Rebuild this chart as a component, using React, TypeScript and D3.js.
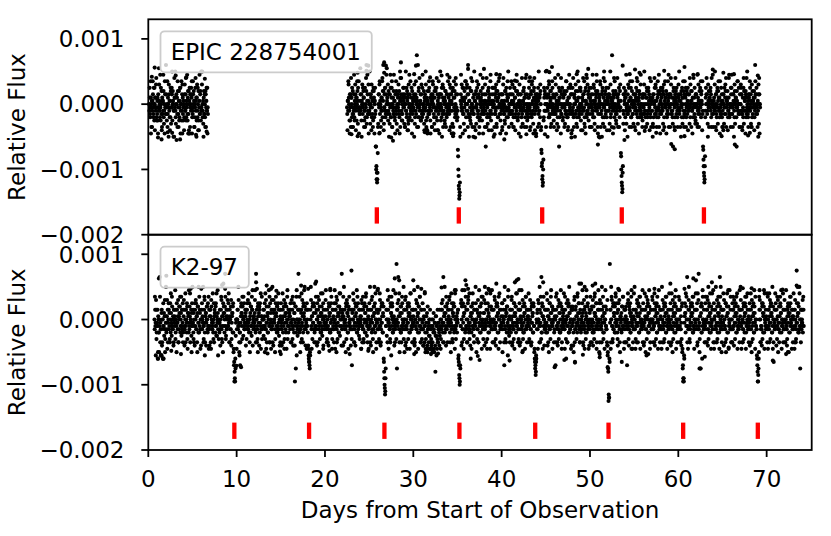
import React, { useEffect, useRef } from 'react';
import * as d3 from 'd3';

// flux samples are stored one character per cadence: level = index - 30, flux = level * 5e-5
const CADENCE = 0.05;
const FLUX_STEP = 0.00005;
const LEVELS = '0123456789ABCDEFGHIJKLMNOPQRSTUVWXYZabcdefghijklmnopqrstuvwxyz';
const ZERO_LEVEL = 30;
// stray points read one by one: [day, flux in 1e-4]
const SCATTER_UNIT = 0.0001;

// [start day, samples]
const epicRows: [number, string][] = [
  [0.1, 'UZRTWNVSbTQUZMWTcP'],
  [1, 'RWLTfVSdPUYNRVdQSLXT'],
  [2, 'gTPbRUKXVMQYTZeUVKSc'],
  [3, 'TeQUJWNYRVPTZLUbSLWP'],
  [4, 'VMXTScQUdPYRLVLXUZWL'],
  [5, 'SbUYNQTcVKWSZMPTdRYP'],
  [6, 'eSeQVKYRUNXTZSLR'],
  [22.5, 'TMVbWSLPXc'],
  [23, 'WQNYRSdPUXMTWbVZSLTR'],
  [24, 'fSXKUTZYWPSNUcgQdRVL'],
  [25, 'UeRTXMQVYPZWLVRHA769'],
  [26, 'NUXLbVTPWScYgMTXZQSd'],
  [27, 'fWUPYKRXdQUZNTWRdVQL'],
  [28, 'TbRXMWUSYLVcXRPPWZVT'],
  [29, 'XNUeSQYMWPUdXRTSZLUW'],
  [30, 'VSKWQXbUjVTNYQcUVPXS'],
  [31, 'QdUTYMVSePWULVRYZSWL'],
  [32, 'UXNVbTWQYMZSTcPXURWL'],
  [33, 'SeUXQKRWZSUPVYNRXdSU'],
  [34, 'WTMVZSXLUYLLbWSRcXTP'],
  [35, 'QGA513NVdTSWLZRVYMWb'],
  [36, 'SZUXgRKVQPYcSUNTKReV'],
  [37, 'VMYTbWQSXLPUdWRVSZLU'],
  [38, 'TXNVHUcQRYVMUXSdPVRZ'],
  [39, 'UVKXTZRWYNTVQbXUdLRT'],
  [40, 'XMUTcRVPYTLSXWQeTRUZ'],
  [41, 'RUbVSXNQUZWMRTdYUQXL'],
  [42, 'VTXKUQcSVYTUNWXSdRPU'],
  [43, 'SWZUMXRYQbUSLWcRVXLT'],
  [44, 'UXNVeSWQYMGB75APZSXU'],
  [45, 'eSUWKTXbQUYNTRWZUXPS'],
  [46, 'TcRUXMSQdVHYWULRXZTQ'],
  [47, 'WUNXSRbYQUMWSdRUZXLS'],
  [48, 'SXcQUWKRYVSNeTWQRZUY'],
  [49, 'UTWMVXSbQYLVRcUSXPTZ'],
  [50, 'RVUXNSdQVZUMTXWdSYLU'],
  [51, 'KWTbURXKYQUcTNVXSZQW'],
  [52, 'VUXSMWeQVUjTLXWSbUYP'],
  [53, 'TScUXVNQYTFA639SXZVM'],
  [54, 'QWdTUKRSZVTbWQNYVRUX'],
  [55, 'UXSMWVcYQUSLXTRdUQWP'],
  [56, 'WRUeXSQNWYRUZSXMWQbV'],
  [57, 'SVKXQUcRVZSNTWXQdSYL'],
  [58, 'VUWSZYMXQUbTWLRXUVdW'],
  [59, 'TXUcRSWQHYUNMXVWZUQT'],
  [60, 'WSeTXVKYQWUbSNXRWZQY'],
  [61, 'UVMXSTcQUYVSLTdUWZQP'],
  [62, 'XTUdSRVNYUTbXVMRHD96'],
  [63, 'BQWUcXSKVYUWTZXNVUdR'],
  [64, 'TWSeUXMQYTVbSWLTRZVQ'],
  [65, 'VNXUTRWYcVTUMSWdQRUZ'],
  [66, 'UdRTXVKQYUWTHVbSUZRN'],
  [67, 'SUZXRMWQcYSVLXWReSQV'],
  [68, 'WTbSXVNQYVTUMWgXRZTU'],
  [69, 'VKXcUT'],
];

// samples falling half a cadence later
const epicRowsB: [number, string][] = [
  [0.125, 'SWQbUTNVXRZPUWSaQT'],
  [1.025, 'VPXSaUQTZRMWVSYOUbTR'],
  [2.025, 'XRUNWTaSQVZOTXPYUSKW'],
  [3.025, 'WSOXURbTNYQVZSUPXaRT'],
  [4.025, 'UQaSXPVTRWLYUZNTSXbQ'],
  [5.025, 'RXTVNUZSWPaQUYMVRXTS'],
  [6.025, 'TaUSOWRXQYNVSZT'],
  [22.525, 'RVSaUPXTNW'],
  [23.025, 'UZRNTXQVaSWPUYOTbSRV'],
  [24.025, 'XTPVaRUWNSZQTYOVXSaR'],
  [25.025, 'SXOUWaTRNVYQUZSHB97F'],
  [26.025, 'OXTaRUNSWbQVYOTSZRXU'],
  [27.025, 'VRaSUXOTZQWbNUSYRVPX'],
  [28.025, 'SYOUXTaRQWNVcSURXTZO'],
  [29.025, 'UNWSZRVXOaTQUbSWPYRV'],
  [30.025, 'TXaOVSRWNUgQZTSUXPaR'],
  [31.025, 'ZSRUOWXTaNVQYSUbRTPW'],
  [32.025, 'SVNXaUROWTYQZSMVUbTX'],
  [33.025, 'XUPTZSaNVRWOYUTQXRbS'],
  [34.025, 'TRaXNUVSOZNWTYQUaRSX'],
  [35.025, 'SE8426KXUaSZRVOTWbUQ'],
  [36.025, 'UaSNXQVZTROYUbSWRXNT'],
  [37.025, 'XTOUZSRaWNQVYTUPXcRS'],
  [38.025, 'RVaSXNUTOYZWQRbSUMXV'],
  [39.025, 'TZUNRXSaOVYQWTcRUPXS'],
  [40.025, 'VNXaSUROYTZQVbWSNUXR'],
  [41.025, 'SXOUaRVNZTWQYSbUPXRV'],
  [42.025, 'aUSXNTROVYZWSQcUNXTR'],
  [43.025, 'QWbTSNXUaRVOYZTMUSWX'],
  [44.025, 'VTZROSXaUNFC86DQWYSU'],
  [45.025, 'NXUZSTQaRWVYOUbSTRNW'],
  [46.025, 'SRaXVOTUNZWQSYcRUTPX'],
  [47.025, 'XYTOUSbRVQNZWUTaSXRM'],
  [48.025, 'ZTRNXWUaSOQVYbTRSUZP'],
  [49.025, 'URWScXTONVZUQSaRYWTN'],
  [50.025, 'WNZUTRXSaQOVUYSbTNRX'],
  [51.025, 'TVRaNUSXZOWTQbYRUSMV'],
  [52.025, 'SZUXOTaRWNVSYUcQTXRO'],
  [53.025, 'RXWNUZTSaVE854BORXUW'],
  [54.025, 'YSOURXaTVNSWZQUbRTOV'],
  [55.025, 'UNXTZRSbOWVYQTaSURNX'],
  [56.025, 'XTaRSNUWZOQSYVTcRUNW'],
  [57.025, 'SWONXUZTaRVQSbYTNURX'],
  [58.025, 'ZRUTSOXaNVWTYUQSbRNX'],
  [59.025, 'TNXaURSOWZVTQcYRUSNX'],
  [60.025, 'aVRSNXUTZOWQYRbSUNTX'],
  [61.025, 'RZSUXOTaVNYSWQcTRUOX'],
  [62.025, 'XUONWaSTRZVQYUbSGB87'],
  [63.025, 'ESZXUROaTNWVYSQcRUTN'],
  [64.025, 'VTaSNXRUZOYWSQbTURXN'],
  [65.025, 'SXUOZTaRNWVYQScRUTNX'],
  [66.025, 'ZRTNXUSaOVWQYTbSRUNX'],
  [67.025, 'UaXSNRTZOWVSYQcTURNX'],
  [68.025, 'XSZUONaTRVWYQSbTUXRN'],
  [69.025, 'SaOXU'],
];

const epicScatter: [number, number][] = [
  [0.72, 5.6], [1.1, -5.1], [1.5, -5.4], [2.7, -4.4], [3.6, -5.4], [5.4, -4.7], [0.4, 4.2],
  [3.1, 4.4], [4.3, 4.1], [2.2, -4.3], [4.6, -4.0], [6.4, 3.9], [6.6, -4.2], [0.3, -4.5],
  [23.0, -4.6], [23.7, -4.9], [23.7, 4.8], [24.9, 5.9], [24.7, 5.1], [26.2, -4.4], [26.7, 6.4],
  [26.9, 5.9], [26.7, 4.8], [27.5, -5.1], [27.7, -5.6], [28.6, 6.4], [28.5, 5.0], [29.4, -4.0],
  [30.3, 5.9], [30.1, 4.6], [31.3, -4.3], [31.5, -3.8], [31.6, -4.1], [31.9, 4.1], [32.8, -4.0],
  [33.2, 4.4], [34.1, 4.1], [34.5, -4.9], [36.2, 5.4], [37.0, -5.1], [38.0, 5.4], [39.2, -4.6],
  [39.4, 4.6], [40.3, -5.4], [41.5, 3.6], [42.8, -4.6], [43.2, 4.1], [43.9, -4.9], [44.9, -4.6],
  [45.1, 5.1], [45.7, 5.7], [45.4, 4.9], [47.9, -5.1], [48.5, 4.6], [49.0, -4.0], [49.8, 5.4],
  [49.6, 4.5], [50.9, -6.2], [51.1, -5.1], [51.6, 5.0], [52.7, -3.6], [53.7, 5.9], [53.9, -5.5],
  [54.5, 4.6], [55.1, 5.3], [55.6, 4.8], [56.2, -4.1], [57.5, -4.4], [58.4, 5.1], [59.2, -6.1],
  [59.6, -6.9], [60.7, 5.7], [60.7, -4.9], [62.2, 4.6], [63.9, 5.3], [64.9, -4.9], [65.1, 4.8],
  [65.1, -4.0], [66.3, 4.6], [66.4, -6.2], [67.9, -4.8], [68.1, -4.4], [69.0, 4.4], [69.2, -4.5],
];

const k2Rows: [number, string][] = [
  [0.7, 'UbSJXQ'],
  [1, 'TXIUQShNRJWMUIZSPVKR'],
  [2, 'eQVLXTZRWNUcSPYRVMXT'],
  [3, 'SdQUKXTVNRYUbSWPXRZQ'],
  [4, 'VRMXcSUQYLTWdRVNUXSZ'],
  [5, 'eTQWSMXUZRVKYTeQSWLU'],
  [6, 'UXRVeNSbQTWMUYRZSLXV'],
  [7, 'SVLYTRcQUNXWSZPVTdRU'],
  [8, 'TQXMUbRVSKfYWUiSPXRV'],
  [9, 'XScUNVRYMTWQZKGBCIPU'],
  [10, 'LUXReSNQGTYWSbVPUZRT'],
  [11, 'VMXTZRScQUKWYSPXdTRV'],
  [12, 'SWdQiUNRYVTMXZSLVbRU'],
  [13, 'UPXVScRLYTWQUdNSZTLX'],
  [14, 'ReTMWUXKVbSQYRZTPUXN'],
  [15, 'XSMUcQVYLTZRWLUdSQXV'],
  [16, 'VRZTNUXbMSQWBYFSdUPX'],
  [17, 'iUQXKRWcTSNYVdRUMXSZ'],
  [18, 'UQMJHGKXeSLVYTRZNRfW'],
  [19, 'SXMUbVRKYTQcWSPUZXRT'],
  [20, 'TVdRNXUSMYWQdTZRLUXV'],
  [21, 'RZULXSbNVTYQWcPUXSiV'],
  [22, 'XMVeTRUKYSZWQLXbTSUR'],
  [23, 'jGWUcXNRVMYSdQTZUPXS'],
  [24, 'VULXZSbRNYTWQcUPSXVL'],
  [25, 'USeTMXQbVKRYWZSULXTd'],
  [26, 'WNXScUMRYTZQVIEA7CSX'],
  [27, 'PUdXLTbRNYWSZUQdVMTR'],
  [28, 'TUlFXShVcKRYQNWZSTeU'],
  [29, 'XRMbUSLYTWZQLVcRUXSN'],
  [30, 'VSdMUXKRZTWLYQUbSNXR'],
  [31, 'UZRMVScQLTLWKRSNUPXL'],
  [32, 'RMUKSKWLQTEVPSLXNRTM'],
  [33, 'PSLURXTQhNVeSWMYRZUT'],
  [34, 'VTbQUKcXSNWZRYLUdSVQ'],
  [35, 'UXIHDAGSZMYdRTLWdRgR'],
  [36, 'XSNUbRQcTMVYLWSZUPXT'],
  [37, 'TeUKXRWNVdSQYUZLTbRS'],
  [38, 'WMRZUScLXTQVdSLUYRdT'],
  [39, 'RUXNbTSMYVZQWLUcXSRV'],
  [40, 'SZKVTUGeRXNWYSQdUPVR'],
  [41, 'XQUbMVSRZLTWYcgSUNXR'],
  [42, 'UMXVRdSKYQTZWLUbRXSV'],
  [43, 'VcSNUXRMYTWQZSKIFDHU'],
  [44, 'RXLUZSeNTWhQYLVbUSXR'],
  [45, 'TScQMXVKRZUWdSYLTXUQ'],
  [46, 'XUGbVSNMYTRZWQdULXSV'],
  [47, 'UcRLXTIZSNVYQeWRULXS'],
  [48, 'SXMKUbHRYVTQcWSZUNXR'],
  [49, 'fTVdSMXRLYUWdQTZSLUX'],
  [50, 'RbUXNSQMYTWcVRZLUSXd'],
  [51, 'UKNXSZReTVQYWLUdSRXM'],
  [52, 'MF56IlXLUbSNYRWZQTcU'],
  [53, 'SZQMXUdRKVTWHYSbULXR'],
  [54, 'XVNUGRcSMYTZQWdULSXV'],
  [55, 'UeRLXSNZVTYQbWLUSXRd'],
  [56, 'TSMXcVKRJYUZWQdSLUXT'],
  [57, 'RbUNXScMVTYZQWLUdSRX'],
  [58, 'VSLeUXRNYTZWQbSLUXVR'],
  [59, 'UXfMScRKVTYQZWdLSUXR'],
  [60, 'SbUNXRVMYKFBCJTZWcSU'],
  [61, 'hSLXeUNRYVTZWQbSLUXR'],
  [62, 'gUXMcRiSKVFYZQIdUTXR'],
  [63, 'SZNUXbRMVTYQcWLUSXRd'],
  [64, 'ULXVReSNYQTZWLhbRXSV'],
  [65, 'XTcMUSRZKVYQWdLUdSXR'],
  [66, 'RUNXbSMVYTZQWcLUSRXd'],
  [67, 'VeSLXUNRYTQZWLbSUXRV'],
  [68, 'SXMUcRKVYTZQdWLUSRJG'],
  [69, 'BDIbUXNRSMYZQWdLUSXV'],
  [70, 'UcRLXSNVYTZWQeLUHSXR'],
  [71, 'XSMUbVKRYTQZWdLUScXR'],
  [72, 'RUNXdSMVYTKQWbZUSLXV'],
  [73, 'VcSLXUNRjTeZWQeSFUXR'],
  [74, 'UXQbS'],
];

const k2RowsB: [number, string][] = [
  [0.725, 'RXTaOS'],
  [1.025, 'SIVQKUbTJRXNUSIWRaOT'],
  [2.025, 'VTaRNUXSOZQWTbSRUNXV'],
  [3.025, 'UOXSZTRaNVWYQUbSRTNX'],
  [4.025, 'aSRUNXTZOWVQSYcTUPWS'],
  [5.025, 'TXONUZSaRVNWYQTbXRUM'],
  [6.025, 'RZUTSOXaNVWTYUQSbRMX'],
  [7.025, 'XNaURSTOZVWQYScPUWTO'],
  [8.025, 'UTRSXaONVZWSQYbOVRUa'],
  [9.025, 'SZTNXURaOVWYQLHEBFTU'],
  [10.025, 'RUXSaTJQNVZWOYUbSRTX'],
  [11.025, 'WSOXUaRTZNVQYSbXMUVR'],
  [12.025, 'TaRNUXSOZVWYQTcRVOUS'],
  [13.025, 'XUSZORaTNVQWYSbNUWRa'],
  [14.025, 'SNXaUTROZWVYQScXRMUV'],
  [15.025, 'ZTRUXNSaOVWQYTbOUXSW'],
  [16.025, 'VXNTaSORUZWMTYQbURSX'],
  [17.025, 'TRbUSNXOaVQZWUYSRTLX'],
  [18.025, 'SXLIHFJUaRVOZTWYQSNb'],
  [19.025, 'RUZNXTaSOVWQYRcVMUTS'],
  [20.025, 'XaTSOUNRZVYWQTbUOXSR'],
  [21.025, 'NTUXZSRaOWVQYScXUMRW'],
  [22.025, 'UbSNXTRZOaWQVYTSURMX'],
  [23.025, 'ORXUaSNTZVWYQbURSXOT'],
  [24.025, 'TVaSNRXOUZQWbYTSNURX'],
  [25.025, 'ZSNXUaRTOVYWSQcUNTXR'],
  [26.025, 'RUOXaSNTZVQWYHC98FSU'],
  [27.025, 'XNaTUSROZWbVYQTRUSNc'],
  [28.025, 'SOUXZTaRNVWQYSbURTOX'],
  [29.025, 'UaSNXRTZOVYWQcUSRNTX'],
  [30.025, 'XTONUSaRZVQWYSbUNRXO'],
  [31.025, 'TRMUXNSKOVQMYRTPLUSN'],
  [32.025, 'OLSNUQRKTMPVJSONTRQX'],
  [33.025, 'RUOXZSaNTVWQYRbUSNXT'],
  [34.025, 'XaSNUTRZOWVYQScROUTW'],
  [35.025, 'TXJGCBFSaUNRZVOWYQbS'],
  [36.025, 'UNXZaTSORVWQYUcSRNXT'],
  [37.025, 'SZUXORaNTVYWQSbTUROW'],
  [38.025, 'aRTSNXUOZVWQYTcSUXRN'],
  [39.025, 'XNUSaROTZVYWQbUSNRXT'],
  [40.025, 'TZRUXNaSOVWQYTbURSNX'],
  [41.025, 'USaXNTROZWVYQScTUROX'],
  [42.025, 'ZXNTURSaOVQWYRbSUNXT'],
  [43.025, 'SXOUaRTNZVWQYSLHGEIT'],
  [44.025, 'WRaUTNXSbOQZVYSUMRTX'],
  [45.025, 'QTXaVNSUZRObWTYSXUNR'],
  [46.025, 'VUNXcSRTaOWQUZSYNRTW'],
  [47.025, 'SXRbTOUVNaSZQWTRYUMX'],
  [48.025, 'YTQUaNRXSOVbTUZRWNSQ'],
  [49.025, 'URZWNTaXSQOVbUYRSTMW'],
  [50.025, 'XNSTYUaRQObWVSZNUTRX'],
  [51.025, 'TZaRUSNXVbOQTWUYSRNa'],
  [52.025, 'KE76HTXNUaSOZRVWYQbS'],
  [53.025, 'TWOXZSaNRVUQYRbUSNXT'],
  [54.025, 'NYSUTZaORXWQVbSTUNRc'],
  [55.025, 'RUXOTWaSNZVQYbTRUSXN'],
  [56.025, 'ZSNTUXRbOVaQSWYTNUXR'],
  [57.025, 'UaTRSNZXVOWQbUTYSRNX'],
  [58.025, 'XRUNaTSZOVYbQWUSTRNc'],
  [59.025, 'TSZUNXRaOWVSbQYUTNRX'],
  [60.025, 'UXaSNRTOZLGCBIVWQYbS'],
  [61.025, 'NURaXOSTZWVYbQSRUXTc'],
  [62.025, 'XSZNUaRTOVFWQYSbURTN'],
  [63.025, 'SbTUNXaROZVWSQYTcRUN'],
  [64.025, 'ZUNXSRTaOWbVQSYUTRNX'],
  [65.025, 'RTXaUSNZOVcWQYSTURbN'],
  [66.025, 'UNZRXSaTOWVbQSYRUTNX'],
  [67.025, 'XaSTNURZOVWbYQSTcURN'],
  [68.025, 'TZRUXNaSOVWQYTbSURIE'],
  [69.025, 'BFKXaUNSRZOWVYQcTURS'],
  [70.025, 'SNbUXRTaOZWVQSYNUTRc'],
  [71.025, 'ZUXOSaTRNVbYWQSUTNRX'],
  [72.025, 'aNTUSROXZWVYQSbTUXRN'],
  [73.025, 'RUXNaSOTZVWQYRcUSNXT'],
  [74.025, 'TaSX'],
];

const k2Scatter: [number, number][] = [
  [1.2, 6.3], [2.04, 6.7], [4.8, 4.7], [6.0, 4.7], [8.35, 5.3], [8.7, 4.7],
  [12.2, 5.7], [12.3, 4.7], [13.4, 5.2], [13.9, 4.7], [14.5, 4.4], [17.3, 5.2], [17.7, 5.0],
  [18.1, 4.7], [19.0, 5.8], [20.6, 4.7], [21.1, 4.5], [25.6, 5.0], [26.0, 4.7], [27.9, 6.3],
  [28.4, 6.0], [30.0, 6.0], [30.5, 5.0], [30.9, 4.7], [31.3, 4.2], [33.2, 4.9], [34.7, 4.5],
  [36.0, 5.3], [36.2, 4.7], [1.1, -5.0], [1.5, -5.5], [1.7, -6.0], [2.6, -4.8], [3.7, -5.3],
  [4.9, -5.0], [6.4, -5.5], [7.9, -5.5], [10.0, -7.1], [10.5, -7.3], [10.3, -5.0], [12.4, -5.0],
  [13.2, -5.0], [13.5, -5.2], [14.9, -4.9], [15.0, -5.3], [16.8, -5.5], [19.8, -4.5], [20.5, -4.8],
  [21.3, -5.0], [22.8, -5.3], [24.1, -4.5], [24.9, -4.8], [27.5, -5.5], [29.0, -5.0], [30.1, -5.3],
  [32.0, -5.3], [32.8, -5.2], [36.5, -6.0],
  [73.4, 5.2], [44.7, 5.7], [41.9, 6.2], [41.5, 5.7], [42.0, 4.5], [38.1, 5.0], [38.5, 4.7],
  [39.4, 5.5], [48.8, 5.5], [49.4, 5.0], [50.3, 5.2], [50.6, 5.5], [52.4, 5.0], [53.2, 4.7],
  [57.3, 4.7], [60.7, 4.7], [61.7, 6.3], [64.8, 5.0], [63.4, 5.0], [63.8, 5.7], [67.3, 4.8],
  [68.3, 4.8], [69.2, 4.5], [70.3, 4.0], [71.8, 4.6], [37.3, -5.6], [37.5, -6.2], [40.9, -6.3],
  [40.7, -5.5], [42.4, -4.8], [43.9, -5.5], [46.0, -7.3], [47.1, -6.2], [48.3, -6.6], [49.2, -5.4],
  [51.1, -5.3], [51.1, -5.8], [52.0, -7.3], [52.0, -5.5], [54.7, -4.5], [56.6, -5.3], [62.4, -7.5],
  [63.0, -5.7], [64.9, -5.0], [65.7, -4.3], [70.7, -6.3], [72.4, -5.0], [72.2, -5.3],
];

const epicTransits = [25.87, 35.15, 44.59, 53.6, 62.9];
const k2Transits = [9.74, 18.2, 26.73, 35.22, 43.8, 52.1, 60.55, 69.0];
const panelNames = ['EPIC 228754001', 'K2-97'];
const xTicks = [0, 10, 20, 30, 40, 50, 60, 70];
const yTicks = [0.001, 0, -0.001, -0.002];

const toPoints = (sets: [number, string][][], scatter: [number, number][]) =>
  sets
    .flat()
    .flatMap(([start, codes]) =>
      Array.from(codes, (c, j) => ({
        day: start + j * CADENCE,
        flux: (LEVELS.indexOf(c) - ZERO_LEVEL) * FLUX_STEP,
      }))
    )
    .concat(scatter.map(([day, f]) => ({ day, flux: f * SCATTER_UNIT })));

const FONT = '"DejaVu Sans", sans-serif';

const App = () => {
  const svgRef = useRef<SVGSVGElement>(null);

  useEffect(() => {
    const svg = d3.select(svgRef.current);
    svg.selectAll('*').remove();

    const left = 148.3;
    const right = 811.7;
    const x = d3.scaleLinear().domain([0, 75.1]).range([left, right]);

    const panels = [
      {
        name: panelNames[0],
        points: toPoints([epicRows, epicRowsB], epicScatter),
        transits: epicTransits,
        top: 19.3,
        bottom: 234.7,
      },
      {
        name: panelNames[1],
        points: toPoints([k2Rows, k2RowsB], k2Scatter),
        transits: k2Transits,
        top: 234.7,
        bottom: 450,
      },
    ];

    panels.forEach((p, i) => {
      const y = d3.scaleLinear().domain([-0.002, 0.0013]).range([p.bottom, p.top]);
      const g = svg.append('g');

      g.append('g')
        .selectAll('circle')
        .data(p.points)
        .enter()
        .append('circle')
        .attr('cx', (d) => x(d.day))
        .attr('cy', (d) => y(d.flux))
        .attr('r', 2.05)
        .attr('fill', '#000');

      g.append('g')
        .selectAll('line')
        .data(p.transits)
        .enter()
        .append('line')
        .attr('x1', (d) => x(d))
        .attr('x2', (d) => x(d))
        .attr('y1', y(-0.00158))
        .attr('y2', y(-0.00183))
        .attr('stroke', '#ff0000')
        .attr('stroke-width', 4.3);

      // legend box (white at 0.8 alpha, like matplotlib)
      const leg = g.append('g');
      const legTop = p.top + 12;
      const rect = leg.append('rect');
      const label = leg
        .append('text')
        .attr('x', 170.7)
        .attr('y', legTop + 28.3)
        .attr('font-family', FONT)
        .attr('font-size', 23)
        .attr('fill', '#000')
        .text(p.name);
      const w = (label.node() as SVGTextElement).getComputedTextLength();
      rect
        .attr('x', 160.5)
        .attr('y', legTop)
        .attr('width', w + 21)
        .attr('height', 41)
        .attr('rx', 4)
        .attr('fill', '#fff')
        .attr('fill-opacity', 0.8)
        .attr('stroke', '#cccccc')
        .attr('stroke-width', 1.8);

      // frame
      g.append('rect')
        .attr('x', left)
        .attr('y', p.top)
        .attr('width', right - left)
        .attr('height', p.bottom - p.top)
        .attr('fill', 'none')
        .attr('stroke', '#000')
        .attr('stroke-width', 1.8);

      // y ticks
      const fmt = d3.format('.3f');
      yTicks.forEach((v) => {
        g.append('line')
          .attr('x1', left - 7)
          .attr('x2', left)
          .attr('y1', y(v))
          .attr('y2', y(v))
          .attr('stroke', '#000')
          .attr('stroke-width', 1.8);
        g.append('text')
          .attr('x', 124.5)
          .attr('y', y(v))
          .attr('dy', '0.36em')
          .attr('text-anchor', 'end')
          .attr('font-family', FONT)
          .attr('font-size', 23)
          .text(fmt(v));
      });

      const cy = (p.top + p.bottom) / 2;
      g.append('text')
        .attr('transform', `translate(25,${cy}) rotate(-90)`)
        .attr('text-anchor', 'middle')
        .attr('font-family', FONT)
        .attr('font-size', 23)
        .text('Relative Flux');

      if (i === panels.length - 1) {
        xTicks.forEach((v) => {
          g.append('line')
            .attr('x1', x(v))
            .attr('x2', x(v))
            .attr('y1', p.bottom)
            .attr('y2', p.bottom + 7)
            .attr('stroke', '#000')
            .attr('stroke-width', 1.8);
          g.append('text')
            .attr('x', x(v))
            .attr('y', 487)
            .attr('text-anchor', 'middle')
            .attr('font-family', FONT)
            .attr('font-size', 23)
            .text(String(v));
        });
        g.append('text')
          .attr('x', (left + right) / 2)
          .attr('y', 518)
          .attr('text-anchor', 'middle')
          .attr('font-family', FONT)
          .attr('font-size', 23)
          .text('Days from Start of Observation');
      }
    });
  }, []);

  return (
    <svg
      ref={svgRef}
      width={831}
      height={536}
      style={{ position: 'absolute', left: 0, top: 0, background: '#fff' }}
    ></svg>
  );
};

export default App;
